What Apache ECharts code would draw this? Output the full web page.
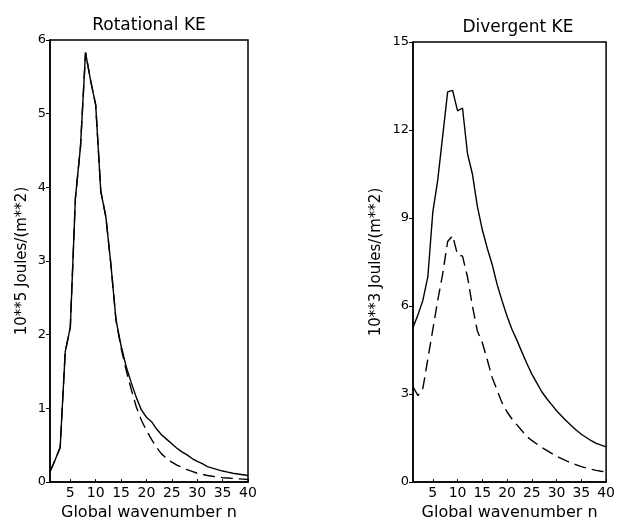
<!DOCTYPE html>
<html>
<head>
<meta charset="utf-8">
<script src="https://cdn.jsdelivr.net/npm/echarts@6/dist/echarts.min.js"></script>
<style>
html,body{margin:0;padding:0;background:#fff;}
#c{width:618px;height:526px;}
</style>
</head>
<body>
<div id="c"></div>
<script>
// Global wavenumber n = 1..40
const wavenumbers = [1,2,3,4,5,6,7,8,9,10,11,12,13,14,15,16,17,18,19,20,21,22,23,24,25,26,27,28,29,30,31,32,33,34,35,36,37,38,39,40];
const xTickLabels = [5,10,15,20,25,30,35,40];

// Rotational KE (10**5 J/m**2)
const rotSolid = [0.14,0.3,0.47,1.77,2.1,3.85,4.55,5.83,5.45,5.12,3.95,3.6,2.95,2.2,1.85,1.57,1.35,1.15,0.98,0.88,0.82,0.72,0.64,0.58,0.52,0.46,0.41,0.37,0.32,0.28,0.25,0.21,0.19,0.17,0.15,0.135,0.12,0.11,0.1,0.09];
const rotDashed = [0.14,0.3,0.47,1.77,2.1,3.85,4.55,5.83,5.45,5.12,3.95,3.6,2.95,2.2,1.82,1.52,1.26,1.02,0.84,0.7,0.58,0.47,0.38,0.32,0.27,0.23,0.2,0.17,0.145,0.12,0.105,0.09,0.08,0.07,0.06,0.055,0.05,0.045,0.04,0.035];

// Divergent KE (10**3 J/m**2)
const divSolid = [5.27,5.7,6.2,7.0,9.2,10.3,11.8,13.3,13.35,12.65,12.75,11.2,10.5,9.4,8.6,7.97,7.41,6.73,6.17,5.65,5.2,4.83,4.43,4.04,3.68,3.38,3.08,2.85,2.64,2.43,2.25,2.08,1.92,1.77,1.63,1.52,1.41,1.32,1.26,1.2];
const divDashed = [3.25,2.95,3.2,4.2,5.2,6.2,7.1,8.2,8.4,7.75,7.7,7.0,6.0,5.15,4.75,4.17,3.56,3.13,2.7,2.39,2.15,1.95,1.75,1.55,1.42,1.3,1.18,1.08,0.98,0.88,0.8,0.72,0.65,0.59,0.53,0.48,0.44,0.4,0.37,0.35];

const leftYTicks = [0,1,2,3,4,5,6];
const rightYTicks = [0,3,6,9,12,15];

function pairs(ys){ return wavenumbers.map((n,i)=>[n, ys[i]]); }

const FONT = 'DejaVu Sans';
const axisLineStyle = {color:'#000', width:1.5};

function xAxisDef(gi){
  return {
    type:'value', gridIndex:gi, min:1, max:40,
    name:'Global wavenumber n', nameLocation:'middle', nameGap:20,
    nameTextStyle:{fontFamily:FONT, fontSize:16, color:'#000'},
    axisLine:{show:true, lineStyle:axisLineStyle},
    axisTick:{show:true, inside:true, length:3, customValues:xTickLabels, lineStyle:{color:'#000'}},
    axisLabel:{show:true, customValues:xTickLabels, margin:4, fontFamily:FONT, fontSize:14, color:'#000'},
    splitLine:{show:false}
  };
}
function yAxisDef(gi, max, interval, name, gap){
  return {
    type:'value', gridIndex:gi, min:0, max:max, interval:interval,
    name:name, nameLocation:'middle', nameGap:gap, nameRotate:90,
    nameTextStyle:{fontFamily:FONT, fontSize:15, color:'#000'},
    axisLine:{show:true, lineStyle:axisLineStyle},
    axisTick:{show:true, length:4, lineStyle:{color:'#000'}},
    axisLabel:{margin:4, fontFamily:FONT, fontSize:13, color:'#000'},
    splitLine:{show:false}
  };
}

const chart = echarts.init(document.getElementById('c'), null, {renderer:'canvas'});
chart.setOption({
  backgroundColor:'#fff',
  animation:false,
  title:[
    {text:'Rotational KE', left:144, top:12, textAlign:'center',
     textStyle:{fontFamily:FONT, fontSize:17, fontWeight:'normal', color:'#000'}},
    {text:'Divergent KE', left:513, top:14, textAlign:'center',
     textStyle:{fontFamily:FONT, fontSize:17, fontWeight:'normal', color:'#000'}}
  ],
  grid:[
    {left:50, right:370, top:40, bottom:39, show:true, borderColor:'#000', borderWidth:1.5, backgroundColor:'transparent'},
    {left:413, right:8, top:42, bottom:40, show:true, borderColor:'#000', borderWidth:1.5, backgroundColor:'transparent'}
  ],
  xAxis:[xAxisDef(0), xAxisDef(1)],
  yAxis:[
    yAxisDef(0, 6, 1, '10**5 Joules/(m**2)', 20),
    yAxisDef(1, 15, 3, '10**3 Joules/(m**2)', 29)
  ],
  series:[
    {type:'line', xAxisIndex:0, yAxisIndex:0, data:pairs(rotDashed), showSymbol:false,
     lineStyle:{color:'#000', width:1.4, type:[12,6]}},
    {type:'line', xAxisIndex:0, yAxisIndex:0, data:pairs(rotSolid), showSymbol:false,
     lineStyle:{color:'#000', width:1.4, type:'solid'}},
    {type:'line', xAxisIndex:1, yAxisIndex:1, data:pairs(divDashed), showSymbol:false,
     lineStyle:{color:'#000', width:1.4, type:[12,6]}},
    {type:'line', xAxisIndex:1, yAxisIndex:1, data:pairs(divSolid), showSymbol:false,
     lineStyle:{color:'#000', width:1.4, type:'solid'}}
  ]
});
</script>
</body>
</html>
